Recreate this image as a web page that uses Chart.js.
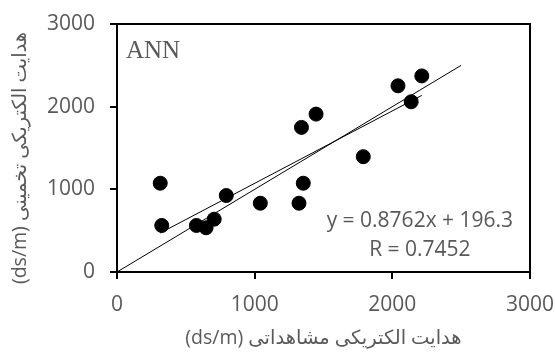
<!DOCTYPE html>
<html lang="fa">
<head>
  <meta charset="UTF-8" />
  <title>ANN</title>
  <script src="https://cdn.jsdelivr.net/npm/chart.js"></script>
  <style>
    body { margin: 0; background: #fff; }
    canvas { display: block; }
  </style>
</head>
<body>
  <canvas id="annChart" width="555" height="354"></canvas>

<script>
  // observed vs. estimated electrical conductivity (ds/m)
  const observed  = [314, 325, 577, 647, 706, 794, 1041, 1322, 1340, 1353, 1446, 1789, 2041, 2137, 2214];
  const estimated = [1074, 563, 563, 535, 639, 925, 832, 832, 1749, 1074, 1910, 1395, 2252, 2059, 2372];

  const axisTicks = [0, 1000, 2000, 3000];
  const fitSlope = 0.8762;
  const fitIntercept = 196.3;
  const oneToOneEnd = 2500;

  const xTitle = '(ds/m) هدایت الکتریکی مشاهداتی';
  const yTitle = '(ds/m) هدایت الکتریکی تخمینی';
  const eqLines = ['y = 0.8762x + 196.3', 'R = 0.7452'];
  const modelName = 'ANN';

  const grey = '#595959';
  const fontFamily = '"Open Sans", "DejaVu Sans", sans-serif';

  const points = observed.map((x, i) => ({ x: x, y: estimated[i] }));
  const xMin = Math.min(...observed);
  const xMax = Math.max(...observed);
  const fitLine = [xMin, xMax].map(x => ({ x: x, y: fitSlope * x + fitIntercept }));
  const diagLine = [0, oneToOneEnd].map(v => ({ x: v, y: v }));

  // box border, y title (sits a bit below centre in the original) and the in-plot texts
  const annotations = {
    id: 'annotations',
    afterDraw(chart) {
      const { ctx, chartArea: a, scales } = chart;
      ctx.save();
      ctx.strokeStyle = '#000';
      ctx.lineWidth = 2;
      ctx.strokeRect(a.left, a.top, a.right - a.left, a.bottom - a.top);

      ctx.fillStyle = grey;
      ctx.font = '25px "Liberation Serif", serif';
      ctx.textAlign = 'left';
      ctx.textBaseline = 'alphabetic';
      ctx.fillText(modelName, a.left + 9, a.top + 34);

      ctx.font = '21px ' + fontFamily;
      ctx.textAlign = 'center';
      const cx = scales.x.getPixelForValue(2200);
      ctx.fillText(eqLines[0], cx, scales.y.getPixelForValue(550));
      ctx.fillText(eqLines[1], cx, scales.y.getPixelForValue(190));

      ctx.font = '19.5px ' + fontFamily;
      ctx.textBaseline = 'middle';
      ctx.translate(20, (a.top + a.bottom) / 2 + 10);
      ctx.rotate(-Math.PI / 2);
      ctx.fillText(yTitle, 0, 0);
      ctx.restore();
    }
  };

  // drop the label overhang so the plot box lands where the padding says
  const noOverhang = s => {
    s.paddingLeft = 0;
    s.paddingRight = 0;
    s.paddingTop = 0;
    s.paddingBottom = 0;
  };

  const axisCommon = () => ({
    type: 'linear',
    min: 0,
    max: 3000,
    afterBuildTicks: s => { s.ticks = axisTicks.map(v => ({ value: v })); },
    ticks: {
      color: grey,
      font: { family: fontFamily, size: 21 },
      padding: 10,
      callback: v => String(v)
    },
    grid: { display: true, drawOnChartArea: false, drawTicks: true, tickLength: 7, color: '#000', lineWidth: 2 },
    border: { display: true, color: '#000', width: 2 }
  });

  const xAxis = axisCommon();
  xAxis.ticks.padding = 13;
  xAxis.title = {
    display: true, text: xTitle, color: grey,
    font: { family: fontFamily, size: 19.5 }, padding: { top: 0, bottom: 4 }
  };
  xAxis.afterFit = s => { s.height = 82; noOverhang(s); };
  const yAxis = axisCommon();
  yAxis.ticks.padding = 15;
  yAxis.afterFit = s => { s.width = 117; noOverhang(s); };

  new Chart(document.getElementById('annChart'), {
    type: 'scatter',
    data: {
      datasets: [
        {
          data: points,
          backgroundColor: '#000',
          borderColor: '#000',
          pointRadius: 7,
          pointHoverRadius: 7,
          order: 0
        },
        {
          data: diagLine,
          showLine: true,
          borderColor: '#000',
          borderWidth: 1,
          pointRadius: 0,
          order: 1
        },
        {
          data: fitLine,
          showLine: true,
          borderColor: '#000',
          borderWidth: 1,
          pointRadius: 0,
          order: 1
        }
      ]
    },
    options: {
      responsive: false,
      animation: false,
      layout: { padding: { top: 24, right: 25, left: 0, bottom: 0 } },
      plugins: { legend: { display: false }, tooltip: { enabled: false } },
      scales: { x: xAxis, y: yAxis }
    },
    plugins: [annotations]
  });
</script>
</body>
</html>
